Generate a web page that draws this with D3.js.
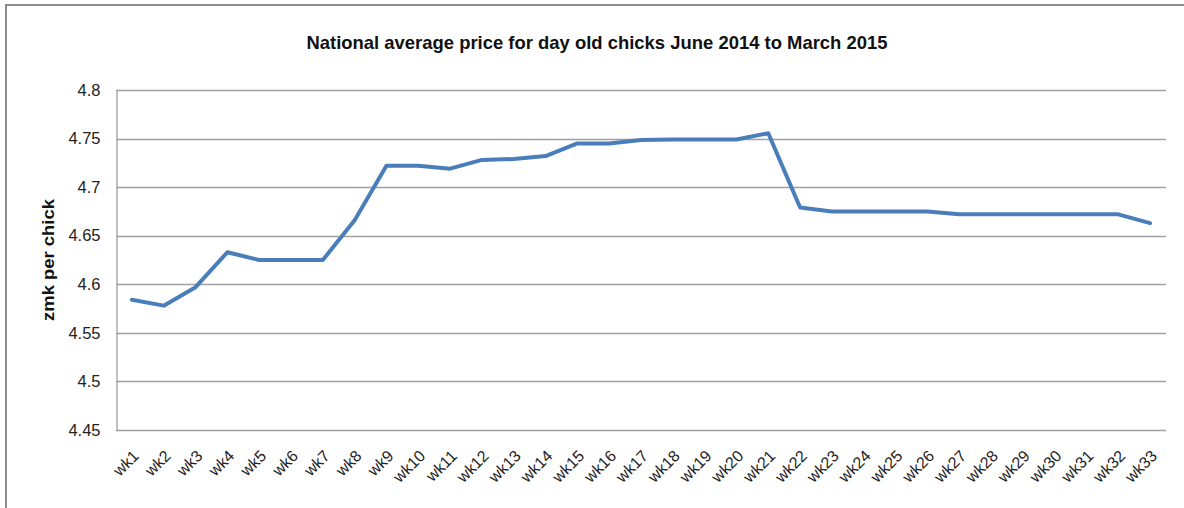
<!DOCTYPE html>
<html>
<head>
<meta charset="utf-8">
<script src="https://cdn.jsdelivr.net/npm/d3@7"></script>
<style>
  body { margin: 0; background: #fff; }
  svg { display: block; font-family: "Liberation Sans", Arial, sans-serif; }
</style>
</head>
<body>
<svg width="1184" height="508"></svg>
<script>
// week labels on the x axis
var weeks = ["wk1","wk2","wk3","wk4","wk5","wk6","wk7","wk8","wk9","wk10","wk11",
    "wk12","wk13","wk14","wk15","wk16","wk17","wk18","wk19","wk20","wk21","wk22",
    "wk23","wk24","wk25","wk26","wk27","wk28","wk29","wk30","wk31","wk32","wk33"];

// national average price, zmk per chick
var prices = [4.584, 4.578, 4.597, 4.633, 4.625, 4.625, 4.625, 4.666, 4.722, 4.722, 4.719,
    4.728, 4.729, 4.732, 4.745, 4.745, 4.7485, 4.749, 4.749, 4.749, 4.7555, 4.679,
    4.675, 4.675, 4.675, 4.675, 4.672, 4.672, 4.672, 4.672, 4.672, 4.672, 4.663];

var yTicks = [4.45, 4.5, 4.55, 4.6, 4.65, 4.7, 4.75, 4.8];

var svg = d3.select("svg");

// plot area (note: "top" is taken by window.top)
var plotL = 116, plotR = 1166, plotT = 90, plotB = 430;

// outer chart frame (runs off the right and bottom)
svg.append("rect")
    .attr("x", 6).attr("y", 5)
    .attr("width", 1200).attr("height", 600)
    .attr("fill", "none")
    .attr("stroke", "#8c8c8c")
    .attr("stroke-width", 2);

var x = d3.scaleBand().domain(weeks).range([plotL, plotR]);
var y = d3.scaleLinear().domain([4.45, 4.8]).range([plotB, plotT]);

// gridlines
svg.append("g").selectAll("line")
    .data(yTicks)
    .enter().append("line")
    .attr("x1", plotL).attr("x2", plotR)
    .attr("y1", d => Math.round(y(d)) + 0.5)
    .attr("y2", d => Math.round(y(d)) + 0.5)
    .attr("stroke", "#a0a0a0")
    .attr("stroke-width", 1.3);

// y axis
var yAxis = svg.append("g")
    .attr("transform", "translate(" + (plotL + 0.5) + ",0)")
    .call(d3.axisLeft(y).tickValues(yTicks).tickSize(0).tickPadding(16).tickFormat(d3.format("")));
yAxis.select(".domain").attr("stroke", "#a0a0a0").attr("stroke-width", 1.3);
yAxis.selectAll("text")
    .attr("font-size", 16.5)
    .attr("fill", "#222")
    .attr("font-family", "Liberation Sans, Arial, sans-serif");

// x axis labels
var xAxis = svg.append("g")
    .attr("transform", "translate(0," + plotB + ")")
    .call(d3.axisBottom(x).tickSize(0).tickPadding(0));
xAxis.select(".domain").remove();
xAxis.selectAll("text")
    .attr("font-size", 16)
    .attr("fill", "#222")
    .attr("font-family", "Liberation Sans, Arial, sans-serif")
    .attr("text-anchor", "end")
    .attr("dy", null)
    .attr("y", 0)
    .attr("transform", "translate(8,27) rotate(-45)");

// line
var line = d3.line()
    .x((d, i) => x(weeks[i]) + x.bandwidth() / 2)
    .y(d => y(d));

svg.append("path")
    .datum(prices)
    .attr("d", line)
    .attr("fill", "none")
    .attr("stroke", "#4a7ebb")
    .attr("stroke-width", 4)
    .attr("stroke-linejoin", "round")
    .attr("stroke-linecap", "round");

// title
svg.append("text")
    .attr("x", 597).attr("y", 49)
    .attr("text-anchor", "middle")
    .attr("font-size", 18.5)
    .attr("font-weight", "bold")
    .attr("fill", "#111")
    .attr("textLength", 581)
    .attr("lengthAdjust", "spacingAndGlyphs")
    .text("National average price for day old chicks June 2014 to March 2015");

// y axis title
svg.append("text")
    .attr("transform", "translate(54,260) rotate(-90)")
    .attr("text-anchor", "middle")
    .attr("font-size", 17)
    .attr("font-weight", "bold")
    .attr("fill", "#111")
    .attr("textLength", 122)
    .attr("lengthAdjust", "spacingAndGlyphs")
    .text("zmk per chick");
</script>
</body>
</html>
